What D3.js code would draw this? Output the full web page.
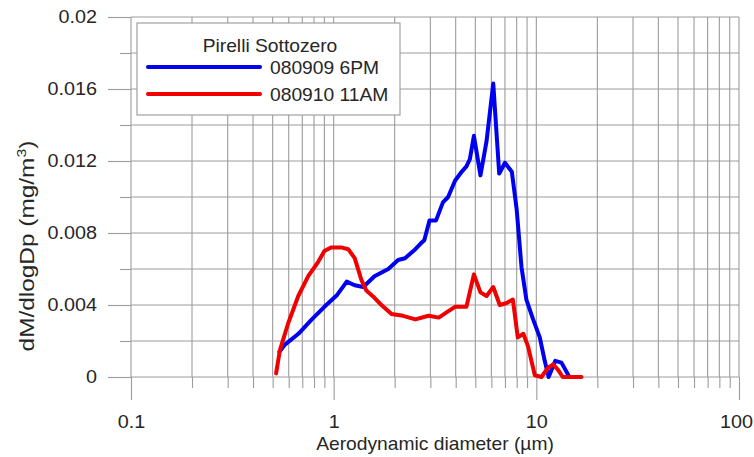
<!DOCTYPE html>
<html>
<head>
<meta charset="utf-8">
<script src="https://cdn.jsdelivr.net/npm/d3@7"></script>
<style>
  html, body { margin: 0; padding: 0; background: #fff; }
  svg text { font-family: "Liberation Sans", Arial, sans-serif; fill: #262626; }
</style>
</head>
<body>
<svg id="chart" width="754" height="457"></svg>
<script>
// Particle mass size distribution, two sampling runs
const legendTitle = "Pirelli Sottozero";
const seriesNames = ["080909 6PM", "080910 11AM"];
const seriesColors = ["#0000f0", "#f00000"];

// 080909 6PM : aerodynamic diameter (µm) and dM/dlogDp (mg/m³)
const blueD = [0.54,0.575,0.67,0.78,0.90,1.04,1.16,1.27,1.40,1.59,1.86,2.08,2.25,2.53,2.68,2.80,2.97,3.20,3.46,3.67,3.97,4.28,4.52,4.70,4.92,5.30,5.68,6.13,6.56,7.00,7.57,8.00,8.45,8.93,9.64,10.4,11.0,11.5,12.0,12.4,13.3,14.4];
const blueV = [0.0014,0.0018,0.0024,0.0032,0.0039,0.00456,0.0053,0.0051,0.0050,0.0056,0.0060,0.0065,0.0066,0.0071,0.0074,0.0076,0.0087,0.0087,0.0097,0.0100,0.0109,0.0114,0.0117,0.0121,0.0134,0.0112,0.0131,0.0163,0.0113,0.0119,0.0114,0.0093,0.0061,0.0043,0.0032,0.0022,0.0009,0.0000,0.0005,0.0009,0.0008,0.0001];

// 080910 11AM
const redD = [0.52,0.543,0.597,0.669,0.749,0.839,0.90,0.97,1.09,1.18,1.27,1.37,1.45,1.59,1.72,1.93,2.2,2.53,2.94,3.3,3.62,3.97,4.52,4.92,5.3,5.68,6.13,6.6,7.1,7.66,8.1,8.63,9.1,9.83,10.6,11.4,12.1,12.8,13.5,16.7];
const redV = [0.0002,0.0015,0.0030,0.0045,0.0056,0.0064,0.0070,0.0072,0.0072,0.0071,0.0066,0.0054,0.0048,0.0044,0.0040,0.0035,0.0034,0.0032,0.0034,0.0033,0.0036,0.0039,0.0039,0.0057,0.0047,0.0045,0.0050,0.0040,0.0041,0.0043,0.0022,0.0024,0.0017,0.0001,0.0,0.0005,0.0007,0.0004,0.0,0.0];

const xMajor = [0.1, 1, 10, 100];
const xMajorLabels = ["0.1", "1", "10", "100"];
const yMajor = [0, 0.004, 0.008, 0.012, 0.016, 0.02];
const yMajorLabels = ["0", "0.004", "0.008", "0.012", "0.016", "0.02"];
const yMinor = [0.002, 0.006, 0.010, 0.014, 0.018];

const xTitle = "Aerodynamic diameter (µm)";

const SX = 1.1; // horizontal widening of the lettering
const gridColor = "#9c9c9c";

const svg = d3.select("#chart");
const x = d3.scaleLog().domain([0.1, 100]).range([131, 739]);
const y = d3.scaleLinear().domain([0, 0.02]).range([377, 17]);

function widen(sel) {
  sel.each(function () {
    const t = d3.select(this);
    const x0 = +t.attr("x") || 0;
    t.attr("x", x0 / SX).attr("transform", `scale(${SX},1)`);
  });
}

// grid
const grid = svg.append("g");
const allX = x.ticks();
grid.selectAll(".vg").data(allX).join("line")
  .attr("x1", d => x(d)).attr("x2", d => x(d))
  .attr("y1", y(0.02)).attr("y2", y(0))
  .attr("stroke", gridColor).attr("stroke-width", 1.1);
const allY = d3.range(0, 11).map(i => i * 0.002);
grid.selectAll(".hg").data(allY).join("line")
  .attr("x1", x(0.1)).attr("x2", x(100))
  .attr("y1", d => y(d)).attr("y2", d => y(d))
  .attr("stroke", gridColor).attr("stroke-width", 1.1);

// axes
function styleAxis(g) {
  g.select(".domain").remove();
  g.selectAll(".tick line").attr("stroke", gridColor).attr("stroke-width", 1.1);
  g.selectAll("text").attr("font-size", 18).attr("fill", "#262626")
    .attr("font-family", "Liberation Sans, Arial, sans-serif");
}

const yAxisMajor = svg.append("g").attr("transform", `translate(${x(0.1)},0)`)
  .call(d3.axisLeft(y).tickValues(yMajor).tickSize(23).tickPadding(11)
    .tickFormat((d, i) => yMajorLabels[i]));
styleAxis(yAxisMajor);
yAxisMajor.selectAll("text").call(widen);

svg.append("g").attr("transform", `translate(${x(0.1)},0)`)
  .call(d3.axisLeft(y).tickValues(yMinor).tickSize(11).tickFormat(""))
  .call(styleAxis);

const xAxisMajor = svg.append("g").attr("transform", `translate(0,${y(0)})`)
  .call(d3.axisBottom(x).tickValues(xMajor).tickSize(23).tickPadding(15)
    .tickFormat((d, i) => xMajorLabels[i]));
styleAxis(xAxisMajor);
// keep the last decade label inside the frame
xAxisMajor.selectAll("text").attr("x", (d, i) => (i === xMajor.length - 1 ? -3 : 0));
xAxisMajor.selectAll("text").call(widen);

svg.append("g").attr("transform", `translate(0,${y(0)})`)
  .call(d3.axisBottom(x).tickValues(allX.filter(d => !xMajor.includes(d))).tickSize(11).tickFormat(""))
  .call(styleAxis);

// axis titles
svg.append("text")
  .attr("x", 435 / SX).attr("y", 450)
  .attr("transform", `scale(${SX},1)`)
  .attr("text-anchor", "middle").attr("font-size", 17.5)
  .text(xTitle);

const yt = svg.append("text")
  .attr("transform", `translate(34,246) rotate(-90) scale(1.22,1)`)
  .attr("text-anchor", "middle").attr("font-size", 20);
yt.append("tspan").text("dM/dlogDp (mg/m");
yt.append("tspan").attr("dy", -8).attr("font-size", 13).text("3");
yt.append("tspan").attr("dy", 8).text(")");

// curves
const line = d3.line().x(d => x(d[0])).y(d => y(d[1]));
const series = [
  d3.zip(blueD, blueV),
  d3.zip(redD, redV)
];
svg.append("g").selectAll("path").data(series).join("path")
  .attr("d", line)
  .attr("fill", "none")
  .attr("stroke", (d, i) => seriesColors[i])
  .attr("stroke-width", 4)
  .attr("stroke-linejoin", "round")
  .attr("stroke-linecap", "round");

// legend
const lg = svg.append("g");
lg.append("rect").attr("x", 137).attr("y", 23).attr("width", 263).attr("height", 92)
  .attr("fill", "#fff").attr("stroke", "#a0a0a0").attr("stroke-width", 1.2);
lg.append("text").attr("x", 270 / SX).attr("y", 52).attr("transform", `scale(${SX},1)`)
  .attr("text-anchor", "middle").attr("font-size", 17.5).text(legendTitle);
const rowsY = [67, 94];
seriesNames.forEach((name, i) => {
  lg.append("line").attr("x1", 148).attr("x2", 260).attr("y1", rowsY[i]).attr("y2", rowsY[i])
    .attr("stroke", seriesColors[i]).attr("stroke-width", 4).attr("stroke-linecap", "round");
  lg.append("text").attr("x", 270 / SX).attr("y", rowsY[i] + 7).attr("transform", `scale(${SX},1)`)
    .attr("font-size", 17.5).text(name);
});
</script>
</body>
</html>
